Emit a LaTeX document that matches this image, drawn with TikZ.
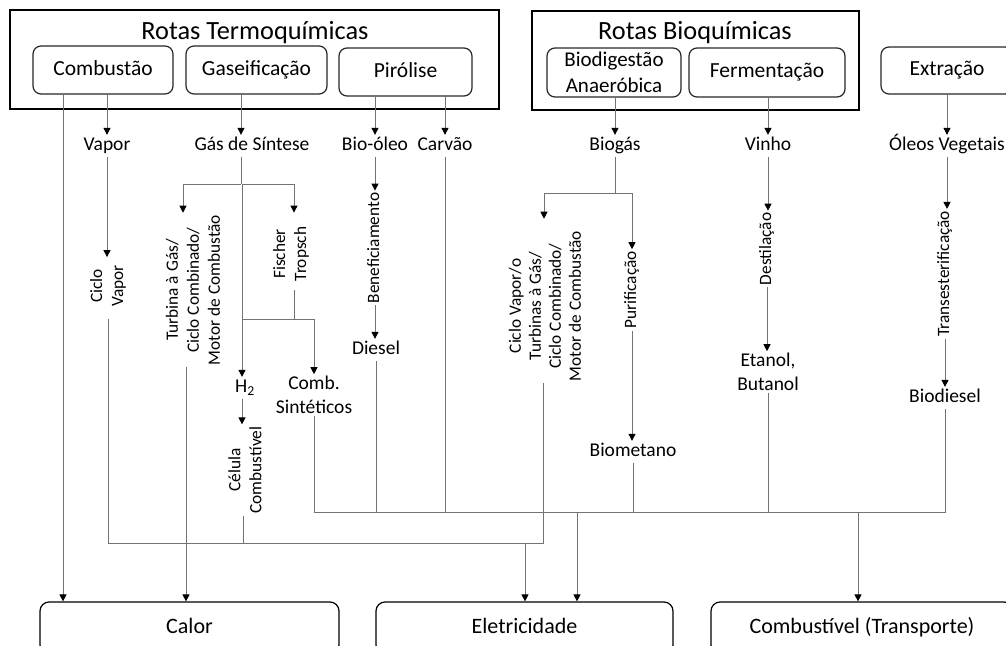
\documentclass[tikz,border=0pt]{standalone}
\usepackage{fontspec}
\setmainfont{Carlito}
\usetikzlibrary{arrows.meta,calc}
\begin{document}
\begin{tikzpicture}[x=1pt,y=-1pt,
  ln/.style={draw=black!55, line width=0.9pt},
  arr/.style={ln, -{Triangle[length=7pt,width=7pt,color=black]}},
  outer/.style={draw=black, line width=1.2pt, inner sep=0pt},
  rbox/.style={draw=black!85, line width=1.2pt, rounded corners=8pt, inner sep=0pt, align=center, font=\fontsize{21.5}{25.5}\selectfont},
  oneb/.style={text height=15pt, text depth=4.7pt},
  onel/.style={text height=13.6pt, text depth=4.3pt},
  oner/.style={text height=12.1pt, text depth=3.8pt},
  lab/.style={inner sep=2pt, align=center, font=\fontsize{19.5}{23.5}\selectfont},
  rot/.style={rotate=90, inner sep=2pt, align=center, font=\fontsize{17.3}{21}\selectfont},
  endbox/.style={draw=black, line width=1.2pt, rounded corners=9pt, inner sep=0pt, font=\fontsize{22}{26}\selectfont, minimum height=52pt, text height=15.4pt, text depth=4.8pt},
  titl/.style={inner sep=0pt, font=\fontsize{26.3}{31}\selectfont}
]
\useasboundingbox (0,0) rectangle (1006,645);
% groups
\node[outer, minimum width=489pt, minimum height=99pt] (termo) at (254.5,59.5) {};
\node[titl] (termoT) at (255,33) {Rotas Termoquímicas};
\node[rbox, oneb, minimum width=140pt, minimum height=48pt] (comb) at (103,70) {Combustão};
\node[rbox, oneb, minimum width=141pt, minimum height=48pt] (gas) at (256.5,70) {Gaseificação};
\node[rbox, oneb, minimum width=133pt, minimum height=48pt] (piro) at (405.5,72) {Pirólise};
\node[outer, minimum width=327pt, minimum height=99pt] (bioq) at (695.5,60.5) {};
\node[titl] (bioqT) at (695,33) {Rotas Bioquímicas};
\node[rbox, minimum width=134pt, minimum height=49pt, font=\fontsize{21}{25.5}\selectfont] (biod) at (614,72.5) {Biodigestão\\Anaeróbica};
\node[rbox, oneb, minimum width=156pt, minimum height=49pt] (ferm) at (767,72.5) {Fermentação};
\node[rbox, oneb, minimum width=132pt, minimum height=47pt] (extr) at (947,70.5) {Extração};
% intermediate products
\node[lab, onel] (vapor) at (107,146) {Vapor};
\node[lab, onel] (sint) at (252,146) {Gás de Síntese};
\node[lab, onel] (bioo) at (375,146) {Bio-óleo};
\node[lab, onel] (carv) at (445,146) {Carvão};
\node[lab, onel] (biog) at (615,146) {Biogás};
\node[lab, onel] (vinho) at (768,146) {Vinho};
\node[lab, onel] (oleos) at (947,146) {Óleos Vegetais};
% processes and products
\node[rot] (cvap) at (108,286) {Ciclo\\Vapor};
\node[rot] (turb) at (193,290) {Turbina à Gás/\\Ciclo Combinado/\\Motor de Combustão};
\node[rot] (fisch) at (291,254) {Fischer\\Tropsch};
\node[lab, onel] (h2) at (245,388) {H\textsubscript{2}};
\node[lab] (csint) at (314,395) {Comb.\\Sintéticos};
\node[rot] (cel) at (245,470) {Célula\\Combustível};
\node[rot, oner] (benef) at (375,248) {Beneficiamento};
\node[lab, onel] (diesel) at (376,350) {Diesel};
\node[rot, font=\fontsize{17.3}{20}\selectfont] (cvo) at (545,306) {Ciclo Vapor/o\\Turbinas à Gás/\\Ciclo Combinado/\\Motor de Combustão};
\node[rot, oner] (purif) at (632,290) {Purificação};
\node[lab, onel] (biomet) at (633,452) {Biometano};
\node[rot, oner] (destil) at (767,249) {Destilação};
\node[lab] (etanol) at (768,372) {Etanol,\\Butanol};
\node[rot, oner] (trans) at (945,274) {Transesterificação};
\node[lab, onel] (biodsl) at (945,398) {Biodiesel};
% end uses
\node[endbox, minimum width=299pt] (calor) at (189.5,628) {Calor};
\node[endbox, minimum width=297pt] (elet) at (524.5,628) {Eletricidade};
\node[endbox, minimum width=302pt] (fuel) at (862,628) {Combustível (Transporte)};
% junctions
\coordinate (gsL) at (241,184);
\coordinate (gsR) at (242,184);
\coordinate (ftj) at (242,319);
\coordinate (bgj) at (615,193);
\coordinate (cvj) at (525,543);
\coordinate (busA) at (577,512);
\coordinate (busB) at (858,512);
% from the route boxes
\draw[arr] ([xshift=-40pt]comb.south) -- ([xshift=-40pt]comb.south |- calor.north);
\draw[arr] (comb.south -| vapor) -- (vapor.north);
\draw[arr] (gas.south -| gsL) -- (sint.north -| gsL);
\draw[arr] (piro.south -| bioo) -- (bioo.north);
\draw[arr] (piro.south -| carv) -- (carv.north);
\draw[arr] (biod.south -| biog) -- (biog.north);
\draw[arr] (ferm.south -| vinho) -- (vinho.north);
\draw[arr] (extr.south) -- (oleos.north);
% combustion
\draw[arr, shorten >=6pt] (vapor.south) -- (vapor.south |- cvap.east);
\draw[ln, shorten <=10pt] (cvap.west) -- (cvap.west |- cvj) -- (cvj);
\draw[arr] (cvj) -- (cvj |- elet.north);
\draw[ln] ([xshift=-2pt]cel.west) -- ([xshift=-2pt]cel.west |- cvj);
% gasification
\draw[ln] (sint.south -| gsL) -- (gsL);
\draw[arr] (gsL) -| ([xshift=-10pt]turb.east);
\draw[arr, shorten >=12pt] (gsR) -| ([xshift=3pt]fisch.east);
\draw[arr] (gsR) -- (gsR |- h2.north);
\draw[ln, shorten <=7pt] ([xshift=3pt]fisch.west) -- ([xshift=3pt]fisch.west |- ftj);
\draw[arr] (ftj) -| (csint.north);
\draw[arr] ([xshift=-7pt]turb.west) -- ([xshift=-7pt]turb.west |- calor.north);
\draw[arr] ([xshift=-3pt]h2.south) -- ([xshift=-3pt]h2.south |- cel.east);
% pyrolysis
\draw[arr] (bioo.south) -- (bioo.south |- benef.east);
\draw[arr] (benef.west) -- (benef.west |- diesel.north);
\draw[ln] (diesel.south) -- (diesel.south |- busA);
\draw[ln] (carv.south) -- (carv.south |- busA);
% fuels bus
\draw[ln] (csint.south) |- (busA -| biodsl.south) -- (biodsl.south);
\draw[ln] (biomet.south) -- (biomet.south |- busA);
\draw[ln] (etanol.south) -- (etanol.south |- busA);
\draw[arr] (busA) -- (busA |- elet.north);
\draw[arr] (busB) -- (busB |- fuel.north);
% biogas
\draw[ln] (biog.south) -- (bgj);
\draw[arr, shorten >=10pt] (bgj) -| ([xshift=-1pt]cvo.east);
\draw[arr] (bgj) -| (purif.east);
\draw[ln] ([xshift=-2pt]cvo.west) |- (cvj);
\draw[arr] (purif.west) -- (purif.west |- biomet.north);
% fermentation
\draw[arr] (vinho.south) -- (vinho.south |- destil.east);
\draw[arr] (destil.west) -- (destil.west |- etanol.north);
% extraction
\draw[arr] (oleos.south) -- (oleos.south |- trans.east);
\draw[arr] (trans.west) -- (trans.west |- biodsl.north);
\end{tikzpicture}
\end{document}
